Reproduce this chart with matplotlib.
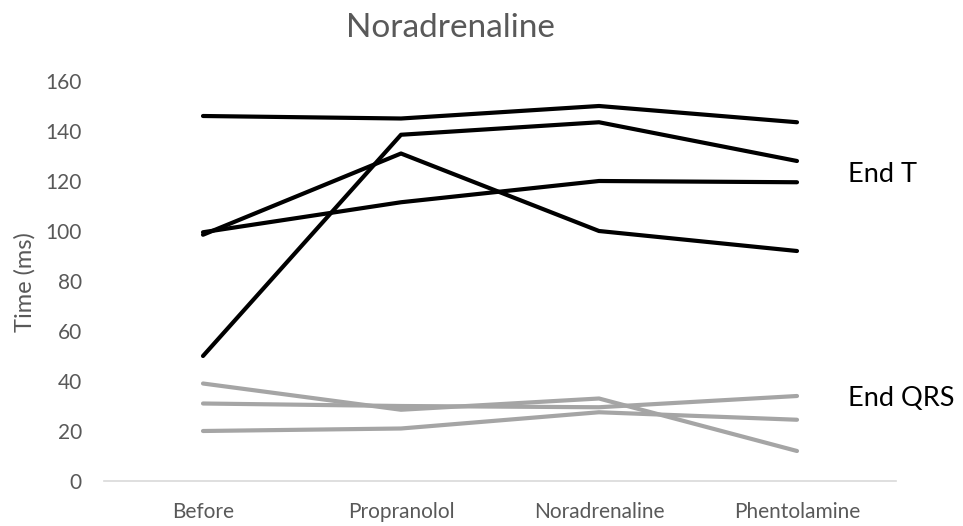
import matplotlib
matplotlib.use("Agg")
import matplotlib.pyplot as plt

categories = ["Before", "Propranolol", "Noradrenaline", "Phentolamine"]

end_t_1 = [146, 145, 150, 143.5]
end_t_2 = [50, 138.5, 143.5, 128]
end_t_3 = [98.5, 131, 100, 92]
end_t_4 = [99.5, 111.5, 120, 119.5]

end_qrs_1 = [39, 28.5, 33, 12]
end_qrs_2 = [31, 30, 29.5, 34]
end_qrs_3 = [20, 21, 27.5, 24.5]

yticks = [0, 20, 40, 60, 80, 100, 120, 140, 160]

plt.rcParams['font.family'] = ['Lato', 'DejaVu Sans']

W, H = 963, 526
fig = plt.figure(figsize=(W / 100, H / 100), dpi=100)
ax = fig.add_axes([104 / W, 1 - 481 / H, (896 - 104) / W, (481 - 81) / H])

x = list(range(len(categories)))
for s in [end_t_1, end_t_2, end_t_3, end_t_4]:
    ax.plot(x, s, color="black", lw=3.0, solid_capstyle="round", solid_joinstyle="round")
for s in [end_qrs_1, end_qrs_2, end_qrs_3]:
    ax.plot(x, s, color="#A5A5A5", lw=3.0, solid_capstyle="round", solid_joinstyle="round")

ax.set_xlim(-0.5, 3.5)
ax.set_ylim(0, 160)
ax.set_yticks(yticks)
ax.set_yticklabels([str(v) for v in yticks])
ax.set_xticks(x)
ax.set_xticklabels(categories)

for side in ["top", "right", "left"]:
    ax.spines[side].set_visible(False)
ax.spines["bottom"].set_color("#D9D9D9")
ax.spines["bottom"].set_linewidth(1.2)
ax.tick_params(axis="both", length=0, labelsize=15, colors="#595959")
ax.tick_params(axis="y", pad=16)
ax.tick_params(axis="x", pad=15)

fig.text(25 / W, 1 - 282 / H, "Time (ms)", rotation=90, ha="center", va="center",
         fontsize=17, color="#595959")

fig.text(450 / W, 1 - 28 / H, "Noradrenaline", ha="center", va="center",
         fontsize=24, color="#595959")

fig.text(848 / W, 1 - 175 / H, "End T", ha="left", va="center", fontsize=19.5, color="black")
fig.text(848 / W, 1 - 398 / H, "End QRS", ha="left", va="center", fontsize=19.5, color="black")

fig.savefig("out.png", dpi=100)
